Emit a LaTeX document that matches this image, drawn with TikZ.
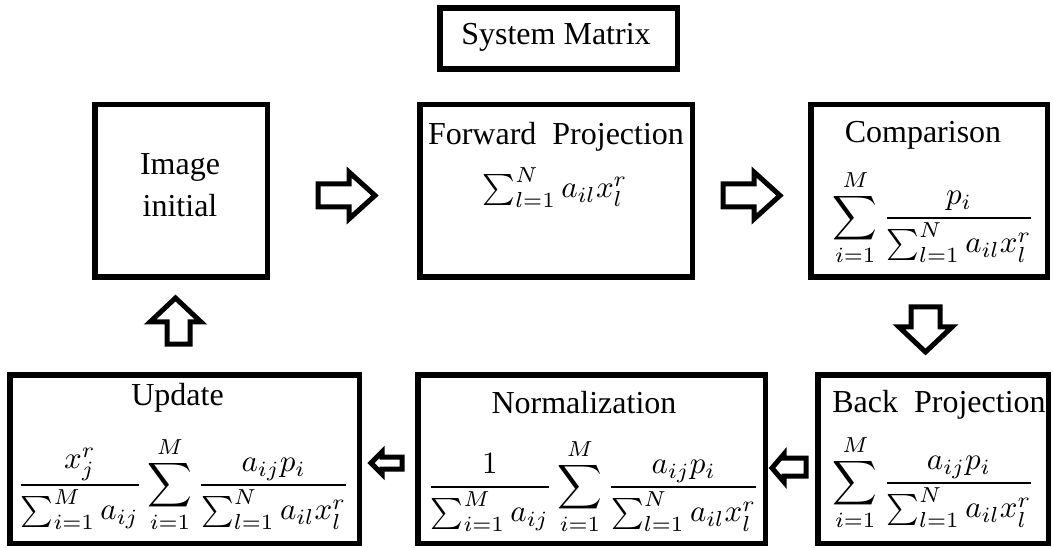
\documentclass[tikz,border=0pt]{standalone}
\usepackage{amsmath}
\usepackage{graphicx}
\usepackage[no-math]{fontspec}
\setmainfont{Liberation Serif}
% formulas are set at normal size and enlarged as a whole
\newcommand{\bigmath}[1]{\scalebox{3.1}{\normalsize$\displaystyle #1$}}
\newcommand{\bigtmath}[1]{\scalebox{3.1}{\normalsize$\textstyle #1$}}
\begin{document}
\begin{tikzpicture}[x=1pt,y=-1pt,
  box/.style={draw, line width=5.5pt, rectangle, minimum width=#1, inner sep=0pt},
  lbl/.style={inner sep=0pt, anchor=base, font=\fontsize{32}{37}\selectfont},
  blockarrow/.style={draw, line width=5pt, line join=miter, fill=white}]
\useasboundingbox (0,0) rectangle (1053,548);

% boxes
\node[box=237.5pt, minimum height=61pt] (sys) at (558.5,38.5) {};
\node[box=172.5pt, minimum height=172.5pt] (init) at (181,191) {};
\node[box=272.5pt, minimum height=172.5pt] (fwd) at (556,191) {};
\node[box=236.5pt, minimum height=172.5pt] (cmp) at (929,191) {};
\node[box=349.5pt, minimum height=168.5pt] (upd) at (184.5,459) {};
\node[box=347.5pt, minimum height=168.5pt] (nrm) at (591.5,459) {};
\node[box=230.5pt, minimum height=168.5pt] (bck) at (933,459) {};

% titles
\node[lbl] (sysT) at (556,45) {System Matrix};
\node[lbl] (initA) at (180,175) {Image};
\node[lbl] (initB) at (180,217) {initial};
\node[lbl] (fwdT) at (556,145) {Forward\ \ Projection};
\node[lbl] (cmpT) at (923,143) {Comparison};
\node[lbl] (bckT) at (939,412) {Back\ \ Projection};
\node[lbl] (nrmT) at (584,413) {Normalization};
\node[lbl] (updT) at (177.5,405) {Update};

% formulas
\node[lbl] (fwdF) at (555,198) {\bigtmath{\sum_{l=1}^{N} a_{il}x_l^r}};
\node[lbl] (cmpF) at (934,225.75) {\bigmath{\sum_{i=1}^{M}\frac{p_i}{\sum_{l=1}^{N} a_{il}x_l^r}}};
\node[lbl] (bckF) at (934,490.75) {\bigmath{\sum_{i=1}^{M}\frac{a_{ij}p_i}{\sum_{l=1}^{N} a_{il}x_l^r}}};
\node[lbl] (nrmF) at (593.5,494.75) {\bigmath{\frac{1}{\sum_{i=1}^{M} a_{ij}}\sum_{i=1}^{M}\frac{a_{ij}p_i}{\sum_{l=1}^{N} a_{il}x_l^r}}};
\node[lbl] (updF) at (183.5,492.75) {\bigmath{\frac{x_j^r}{\sum_{i=1}^{M} a_{ij}}\sum_{i=1}^{M}\frac{a_{ij}p_i}{\sum_{l=1}^{N} a_{il}x_l^r}}};

% block arrows between the stages
\draw[blockarrow] (318,184) -- (349,184) -- (349,172) -- (375,195.5) -- (349,219) -- (349,207) -- (318,207) -- cycle;
\draw[blockarrow] (723,184) -- (754,184) -- (754,172) -- (780,195.5) -- (754,219) -- (754,207) -- (723,207) -- cycle;
\draw[blockarrow] (911,307) -- (940,307) -- (940,327) -- (952,327) -- (925.5,352) -- (899,327) -- (911,327) -- cycle;
\draw[blockarrow] (167,344) -- (190,344) -- (190,322) -- (201,322) -- (175.5,298) -- (150,322) -- (167,322) -- cycle;
\draw[blockarrow] (402,457) -- (382,457) -- (382,452) -- (371,463) -- (382,474) -- (382,469) -- (402,469) -- cycle;
\draw[blockarrow] (806,458) -- (784,458) -- (784,454) -- (772,468) -- (784,482) -- (784,476) -- (806,476) -- cycle;
\end{tikzpicture}
\end{document}
